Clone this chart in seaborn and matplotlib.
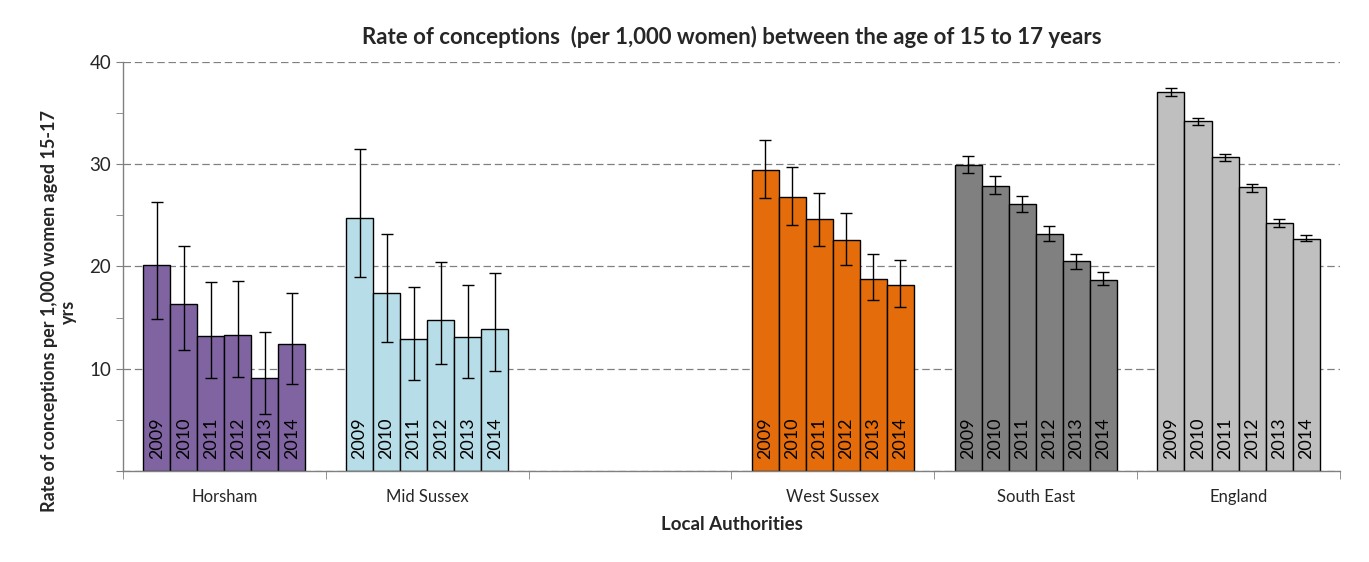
import matplotlib
matplotlib.use('Agg')
import matplotlib.pyplot as plt
import pandas as pd
import seaborn as sb

# categories / years
areas = ['Horsham', 'Mid Sussex', ' ', 'West Sussex', 'South East', 'England']
years = ['2009', '2010', '2011', '2012', '2013', '2014']

# rates, with lower / upper confidence limits
horsham_rate = [20.1, 16.3, 13.2, 13.3, 9.1, 12.4]
horsham_lo = [14.9, 11.8, 9.1, 9.2, 5.6, 8.5]
horsham_hi = [26.3, 22.0, 18.5, 18.6, 13.6, 17.4]

midsussex_rate = [24.7, 17.4, 12.9, 14.8, 13.1, 13.9]
midsussex_lo = [19.0, 12.6, 8.9, 10.5, 9.1, 9.8]
midsussex_hi = [31.5, 23.2, 18.0, 20.4, 18.2, 19.4]

westsussex_rate = [29.4, 26.8, 24.6, 22.6, 18.8, 18.2]
westsussex_lo = [26.7, 24.1, 22.0, 20.1, 16.7, 16.0]
westsussex_hi = [32.4, 29.7, 27.2, 25.2, 21.2, 20.6]

southeast_rate = [29.9, 27.9, 26.1, 23.2, 20.5, 18.7]
southeast_lo = [29.1, 27.1, 25.3, 22.5, 19.8, 18.2]
southeast_hi = [30.8, 28.8, 26.9, 24.0, 21.2, 19.5]

england_rate = [37.1, 34.2, 30.7, 27.8, 24.3, 22.7]
england_lo = [36.7, 33.8, 30.3, 27.3, 23.9, 22.5]
england_hi = [37.5, 34.5, 31.0, 28.1, 24.6, 23.1]

area_colours = {'Horsham': '#8064A2',
                'Mid Sussex': '#B7DEE8',
                'West Sussex': '#E46C0A',
                'South East': '#808080',
                'England': '#BFBFBF'}

series = {'Horsham': (horsham_rate, horsham_lo, horsham_hi),
          'Mid Sussex': (midsussex_rate, midsussex_lo, midsussex_hi),
          'West Sussex': (westsussex_rate, westsussex_lo, westsussex_hi),
          'South East': (southeast_rate, southeast_lo, southeast_hi),
          'England': (england_rate, england_lo, england_hi)}

rows = []
for a, (r, lo, hi) in series.items():
    for y, v, l, h in zip(years, r, lo, hi):
        rows.append({'area': a, 'year': y, 'rate': v, 'lo': l, 'hi': h})
df = pd.DataFrame(rows)

sb.set_style('white')
plt.rcParams['font.family'] = ['Lato', 'DejaVu Sans']

fig, ax = plt.subplots(figsize=(13.69, 5.62), dpi=100)
fig.subplots_adjust(left=0.0898, right=0.9788, top=0.8897, bottom=0.162)

sb.barplot(data=df, x='area', y='rate', hue='year', order=areas, hue_order=years,
           width=0.8, dodge=True, legend=False, errorbar=None, saturation=1,
           edgecolor='black', linewidth=1, ax=ax)

# colour by area, add error bars and year labels
for cont, yr in zip(ax.containers, years):
    for bar in cont:
        cx = bar.get_x() + bar.get_width() / 2
        idx = int(round(cx))
        a = areas[idx]
        row = df[(df['area'] == a) & (df['year'] == yr)].iloc[0]
        bar.set_facecolor(area_colours[a])
        ax.errorbar(cx, row['rate'], yerr=[[row['rate'] - row['lo']], [row['hi'] - row['rate']]],
                    fmt='none', ecolor='black', elinewidth=1, capsize=4.5, capthick=1, zorder=5)
        ax.text(cx, 1.2, yr, rotation=90, ha='center', va='bottom', fontsize=13, color='black', zorder=6)

ax.set_xlim(-0.5, 5.5)
ax.set_ylim(0, 40)
ax.set_yticks([0, 10, 20, 30, 40])
ax.set_yticklabels(['', '10', '20', '30', '40'], fontsize=13.5)
ax.set_yticks([5, 15, 25, 35], minor=True)
ax.set_xticks(range(len(areas)))
ax.set_xticklabels(areas, fontsize=12)
ax.set_xticks([i - 0.5 for i in range(len(areas) + 1)], minor=True)
ax.tick_params(axis='x', which='major', length=0, pad=13)
ax.tick_params(axis='x', which='minor', length=6, color='#808080', direction='out', bottom=True)
ax.tick_params(axis='y', which='both', length=5, color='#808080', direction='out', left=True)

ax.yaxis.grid(True, linestyle=(0, (6, 3)), color='#808080', linewidth=0.9)
ax.set_axisbelow(True)
for s in ['top', 'right']:
    ax.spines[s].set_visible(False)
for s in ['left', 'bottom']:
    ax.spines[s].set_color('#808080')
    ax.spines[s].set_linewidth(1)

ax.set_title('Rate of conceptions  (per 1,000 women) between the age of 15 to 17 years',
             fontsize=16, fontweight='bold', pad=13)
ax.set_xlabel('Local Authorities', fontsize=13.5, fontweight='bold', labelpad=8)
ax.set_ylabel('Rate of conceptions per 1,000 women aged 15-17\nyrs', fontsize=13,
              fontweight='bold', linespacing=1.1)
ax.yaxis.set_label_coords(-0.038, 0.39)

fig.savefig('out.png', dpi=100)
